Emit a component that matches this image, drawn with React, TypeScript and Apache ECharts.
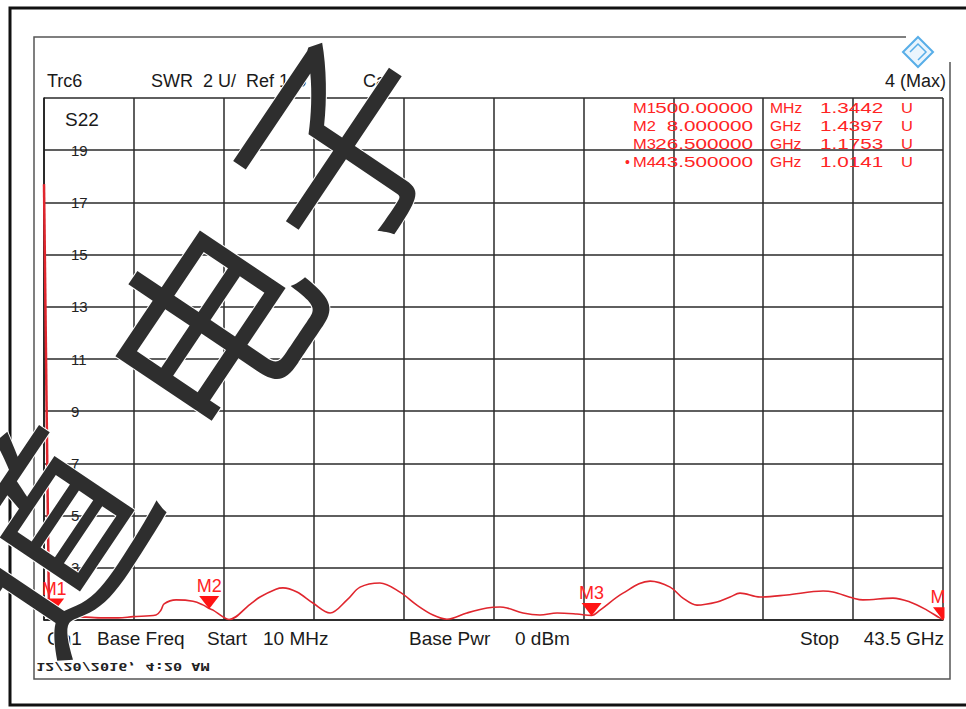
import React, { useEffect, useRef } from 'react';
import * as echarts from 'echarts';

// ---- data (S22 SWR trace) ----
const freqGHz = [
  0.01, 0.25, 0.5, 0.8, 1.22, 2.04, 2.86, 3.6, 4.32, 5.43, 5.67, 5.82, 6.4, 7.22, 7.7, 8.0, 8.19, 8.67, 8.96,
  9.98, 10.46, 11.23, 11.57, 12.25, 13.02, 13.85, 14.67, 15.3, 16.26, 17.23, 18.05, 18.83, 19.5, 20.47,
  21.44, 22.07, 22.41, 23.18, 24.0, 24.83, 25.79, 26.5, 26.91, 28.02, 29.33, 30.3, 30.92, 31.6, 32.57,
  33.2, 33.68, 34.65, 35.95, 37.7, 38.18, 39.15, 39.63, 41.08, 41.9, 42.72, 43.34, 43.5,
];
const swrU = [
  17.7, 1.45, 1.3442, 1.22, 1.15, 1.11, 1.08, 1.08, 1.13, 1.19, 1.38, 1.62, 1.77, 1.72, 1.58, 1.4397, 1.38, 1.12, 1.02,
  1.6, 1.88, 2.18, 2.23, 2.07, 1.65, 1.27, 1.77, 2.26, 2.42, 2.07, 1.57, 1.19, 1.03, 1.27,
  1.46, 1.5, 1.46, 1.27, 1.19, 1.27, 1.23, 1.1753, 1.38, 2.03, 2.49, 2.26, 1.84, 1.57, 1.69,
  1.88, 2.03, 1.88, 1.96, 2.11, 2.07, 1.84, 1.77, 1.84, 1.69, 1.38, 1.08, 1.0141,
];

const markerNames = ['M1', 'M2', 'M3', 'M4'];
const markerFreqGHz = [0.5, 8.0, 26.5, 43.5];
const markerSwr = [1.3442, 1.4397, 1.1753, 1.0141];
const markerFreqText = ['500.00000', '8.000000', '26.500000', '43.500000'];
const markerUnitText = ['MHz', 'GHz', 'GHz', 'GHz'];
const markerValueText = ['1.3442', '1.4397', '1.1753', '1.0141'];

const startGHz = 0.01;
const stopGHz = 43.5;
const xDivisions = 10;
const yTickValues = [1, 3, 5, 7, 9, 11, 13, 15, 17, 19, 21];
const yLabelValues = [3, 5, 7, 9, 11, 13, 15, 17, 19];

const watermarkChars = ['道', '电', '子'];

const FONT = '"Liberation Sans", Arial, sans-serif';
const RED = '#ff2424';
const TRACE = '#e0262e';

export default function App() {
  const ref = useRef<HTMLDivElement>(null);

  useEffect(() => {
    if (!ref.current) return;
    const chart = echarts.init(ref.current, undefined, { renderer: 'svg' });

    const xTicks: number[] = [];
    for (let i = 0; i <= xDivisions; i++) xTicks.push(startGHz + (i * (stopGHz - startGHz)) / xDivisions);

    const points = freqGHz.map((f, i) => [f, swrU[i]]);

    const txt = (text: string, x: number, y: number, size: number, fill: string, align = 'left', extra: any = {}) => ({
      type: 'text',
      x,
      y,
      z: 20,
      ...extra,
      style: {
        text,
        fill,
        font: `${size}px ${FONT}`,
        textAlign: align,
        textVerticalAlign: 'middle',
      },
    });

    const rowsY = [108, 126, 144, 162];
    const tableTexts: any[] = [];
    markerNames.forEach((n, i) => {
      const y = rowsY[i];
      tableTexts.push(txt(n, 633, y, 15, RED, 'left', { scaleX: 1.1 }));
      tableTexts.push(txt(markerFreqText[i], 753, y, 15, RED, 'right', { scaleX: 1.38 }));
      tableTexts.push(txt(markerUnitText[i], 770, y, 15, RED, 'left', { scaleX: 1.05 }));
      tableTexts.push(txt(markerValueText[i], 820, y, 15, RED, 'left', { scaleX: 1.38 }));
      tableTexts.push(txt('U', 901, y, 15, RED, 'left', { scaleX: 1.1 }));
    });
    tableTexts.push(txt('•', 630, rowsY[3], 14, RED, 'right'));

    const wmCenters = [
      [34, 532],
      [202, 322],
      [330, 140],
    ];
    const watermark = watermarkChars.map((c, i) => ({
      type: 'text',
      x: wmCenters[i][0],
      y: wmCenters[i][1],
      z: 100,
      rotation: 0.98,
      style: {
        text: c,
        fill: '#2e2e2e',
        stroke: '#ffffff',
        lineWidth: 2,
        font: 'normal 205px "Noto Sans CJK SC", sans-serif',
        textAlign: 'center',
        textVerticalAlign: 'middle',
      },
    }));

    const option: any = {
      animation: false,
      backgroundColor: '#ffffff',
      grid: { left: 44, top: 98, width: 899, height: 522, containLabel: false },
      xAxis: {
        type: 'value',
        min: startGHz,
        max: stopGHz,
        axisLine: { show: true, lineStyle: { color: '#1e1e1e', width: 1.6 } },
        axisTick: { show: false, customValues: xTicks },
        axisLabel: { show: false },
        splitLine: { show: true, lineStyle: { color: '#2a2a2a', width: 1.5 } },
      },
      yAxis: {
        type: 'value',
        min: 1,
        max: 21,
        axisLine: { show: true, lineStyle: { color: '#1e1e1e', width: 1.6 } },
        axisTick: { show: false, customValues: yTickValues },
        axisLabel: {
          show: true,
          inside: true,
          margin: 27,
          customValues: yLabelValues,
          color: '#222',
          fontSize: 15,
          fontFamily: FONT,
        },
        splitLine: { show: true, lineStyle: { color: '#2a2a2a', width: 1.5 } },
      },
      series: [
        {
          type: 'line',
          name: 'spike',
          data: points.slice(0, 2),
          symbol: 'none',
          lineStyle: { color: TRACE, width: 2.5 },
          z: 3,
        },
        {
          type: 'line',
          name: 'S22',
          data: points.slice(1),
          symbol: 'none',
          smooth: 0.35,
          lineStyle: { color: TRACE, width: 1.6 },
          z: 3,
          markPoint: {
            symbol: 'triangle',
            symbolSize: [20, 13],
            symbolRotate: 180,
            symbolOffset: [0, -6],
            itemStyle: { color: '#ff1414' },
            label: {
              show: true,
              position: 'top',
              distance: 1,
              formatter: '{b}',
              color: RED,
              fontSize: 18,
              fontFamily: FONT,
            },
            data: markerNames.map((n, i) => ({ name: n, coord: [markerFreqGHz[i], markerSwr[i]] })),
          },
        },
      ],
      graphic: [
        // clip region right of the diagram
        { type: 'rect', z: 40, shape: { x: 944.5, y: 560, width: 30, height: 59 }, style: { fill: '#fff' } },
        // outer black frame
        { type: 'rect', z: 50, shape: { x: 10, y: 8, width: 1000, height: 697 }, style: { fill: 'none', stroke: '#111', lineWidth: 3 } },
        // inner grey frame
        { type: 'polyline', z: 50, shape: { points: [[906, 37], [34, 37], [34, 679], [950, 679], [950, 62]] }, style: { fill: 'none', stroke: '#555', lineWidth: 1.5 } },
        // R&S logo
        { type: 'polygon', z: 50, shape: { points: [[918, 37], [933, 52], [918, 67], [903, 52]] }, style: { fill: '#eaf5fd', stroke: '#58aee8', lineWidth: 2 } },
        { type: 'polyline', z: 51, shape: { points: [[910, 52], [918, 44], [926, 52], [918, 60]] }, style: { fill: 'none', stroke: '#58aee8', lineWidth: 1.5 } },
        // header
        txt('Trc6', 47, 81, 18, '#1a1a1a'),
        txt('SWR  2 U/  Ref 1 U', 151, 81, 18, '#1a1a1a'),
        txt('Cal', 363, 81, 18, '#1a1a1a'),
        txt('4 (Max)', 946, 81, 18, '#1a1a1a', 'right'),
        txt('S22', 65, 119, 19, '#1a1a1a'),
        // footer
        txt('Ch1', 47, 638, 19, '#1a1a1a'),
        txt('Base Freq', 97, 638, 19, '#1a1a1a'),
        txt('Start', 207, 638, 19, '#1a1a1a'),
        txt('10 MHz', 263, 638, 19, '#1a1a1a'),
        txt('Base Pwr', 409, 638, 19, '#1a1a1a'),
        txt('0 dBm', 515, 638, 19, '#1a1a1a'),
        txt('Stop', 800, 638, 19, '#1a1a1a'),
        txt('43.5 GHz', 944, 638, 19, '#1a1a1a', 'right'),
        // mirrored timestamp
        {
          type: 'text',
          x: 36,
          y: 667,
          z: 20,
          scaleX: 1.38,
          scaleY: -1,
          style: {
            text: '12/20/2016, 4:20 AM',
            fill: '#222',
            font: 'bold 11px "DejaVu Sans Mono", monospace',
            textAlign: 'left',
            textVerticalAlign: 'middle',
          },
        },
        ...tableTexts,
        ...watermark,
      ],
    };

    chart.setOption(option);
    return () => chart.dispose();
  }, []);

  return (
    <div
      ref={ref}
      style={{ position: 'fixed', left: 0, top: 0, width: 966, height: 709, background: '#fff' }}
    />
  );
}
